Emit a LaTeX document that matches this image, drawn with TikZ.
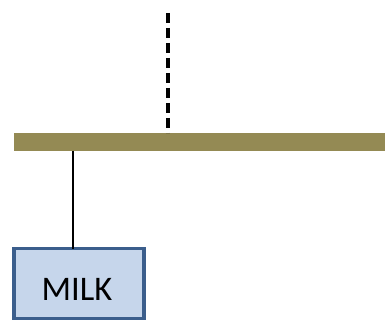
\documentclass[tikz,border=0pt]{standalone}
\usepackage{fontspec}
\setmainfont{Carlito}
\definecolor{olivebar}{HTML}{948A54}
\definecolor{boxfill}{HTML}{C6D6EB}
\definecolor{boxline}{HTML}{3B5E8C}
\begin{document}
\begin{tikzpicture}[x=1pt,y=-1pt,
  barstyle/.style={draw=none,fill=olivebar,minimum width=371pt,minimum height=18pt,inner sep=0pt,outer sep=0pt},
  boxstyle/.style={draw=boxline,fill=boxfill,line width=3.5pt,minimum width=130pt,minimum height=70pt,inner sep=0pt,outer sep=0pt},
  labelstyle/.style={font=\fontsize{34.5}{38}\selectfont,inner sep=0pt,anchor=base},
  dashline/.style={line width=3.5pt,dash pattern=on 10pt off 5pt},
  solidline/.style={line width=2.4pt}]
\useasboundingbox (0,0) rectangle (385,320);
\node[barstyle] (bar) at (199.5,142) {};
\node[boxstyle] (milk) at (79,283.5) {};
\node[labelstyle] (milktext) at (77,300) {MILK};
\coordinate (dtop) at (168,13);
\coordinate (sx) at (73,200);
\draw[dashline] (dtop) -- (dtop |- bar.north);
\draw[solidline] (sx |- bar.south) -- (sx |- milk.north);
\end{tikzpicture}
\end{document}
